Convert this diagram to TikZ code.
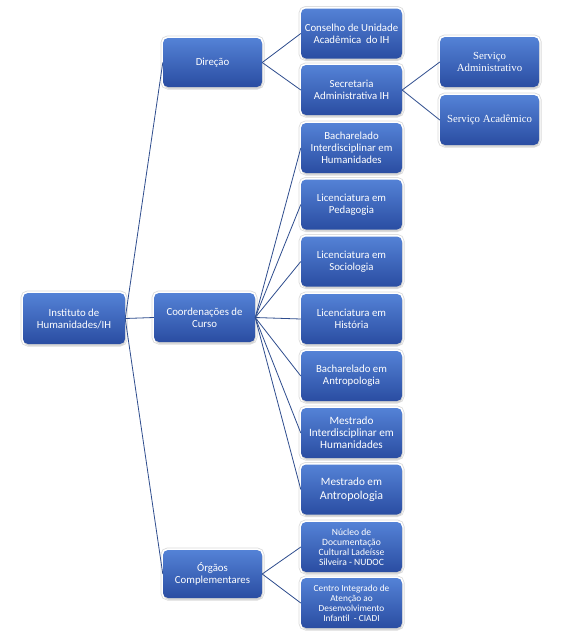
\documentclass[tikz,border=0pt]{standalone}
\usepackage{fontspec}
\setmainfont{Carlito}
\newfontfamily\servfont{Liberation Serif}
\usetikzlibrary{shadows}
\definecolor{boxtop}{HTML}{5482D6}
\definecolor{boxbot}{HTML}{2A4DA2}
\definecolor{linkc}{HTML}{2F4D8E}
\tikzset{
  orgbox/.style={rectangle, rounded corners=5pt, minimum width=101pt, minimum height=50pt,
    inner sep=2pt, align=center, text=white, font=\fontsize{10.8}{12}\selectfont,
    top color=boxtop, bottom color=boxbot, draw=none,
    preaction={draw=black!14, line width=5pt},
    preaction={draw=white, line width=3.4pt},
    drop shadow={shadow xshift=0.6pt, shadow yshift=-1.6pt, opacity=0.35}},
  link/.style={draw=linkc, line width=0.8pt}
}
\begin{document}
\begin{tikzpicture}[x=1pt,y=-1pt]
\useasboundingbox[fill=white] (0,0) rectangle (575,638);
% level 0
\node[orgbox, minimum width=102pt, minimum height=51pt] (root) at (74,318.5) {Instituto de\\Humanidades/IH};
% level 1
\node[orgbox, minimum width=99pt, minimum height=49pt] (dir) at (212.5,62.5) {Direção};
\node[orgbox, minimum width=101pt, minimum height=49pt] (coord) at (204.5,317.5) {Coordenações de\\Curso};
\node[orgbox, minimum width=99pt, minimum height=48pt] (org) at (212.5,574) {Órgãos\\Complementares};
% level 2
\node[orgbox] (cons) at (351.5,33.5) {Conselho de Unidade\\Acadêmica \ do IH};
\node[orgbox] (sec) at (351.5,90) {Secretaria\\Administrativa IH};
\node[orgbox] (bih) at (351.5,148) {Bacharelado\\Interdisciplinar em\\Humanidades};
\node[orgbox] (lped) at (351.5,204.5) {Licenciatura em\\Pedagogia};
\node[orgbox] (lsoc) at (351.5,261.5) {Licenciatura em\\Sociologia};
\node[orgbox] (lhis) at (351.5,319) {Licenciatura em\\História};
\node[orgbox] (bant) at (351.5,376) {Bacharelado em\\Antropologia};
\node[orgbox, font=\fontsize{11.2}{12}\selectfont] (mih) at (351.5,433) {Mestrado\\Interdisciplinar em\\Humanidades};
\node[orgbox, font=\fontsize{11.2}{13.3}\selectfont] (mant) at (351.5,489.5) {Mestrado em\\{\fontsize{12}{13.3}\selectfont Antropologia}};
\node[orgbox, font=\fontsize{9.6}{10}\selectfont] (nudoc) at (351.5,547) {Núcleo de\\Documentação\\Cultural Ladeísse\\Silveira - NUDOC};
\node[orgbox, font=\fontsize{9.3}{10}\selectfont] (ciadi) at (351.5,603) {Centro Integrado de\\Atenção ao\\Desenvolvimento\\Infantil \ - CIADI};
% level 3
\node[orgbox, minimum width=99pt, font=\servfont\fontsize{10.8}{11.7}\selectfont] (sadm) at (489.5,62) {Serviço\\Administrativo};
\node[orgbox, minimum width=99pt, font=\servfont\fontsize{10.8}{11.7}\selectfont] (sacad) at (489.5,120) {Serviço Acadêmico};
% connectors
\draw[link] (root.east) -- (dir.west);
\draw[link] (root.east) -- (coord.west);
\draw[link] (root.east) -- (org.west);
\draw[link] (dir.east) -- (cons.west);
\draw[link] (dir.east) -- (sec.west);
\draw[link] (sec.east) -- (sadm.west);
\draw[link] (sec.east) -- (sacad.west);
\foreach \n in {bih,lped,lsoc,lhis,bant,mih,mant}
  \draw[link] (coord.east) -- (\n.west);
\draw[link] (org.east) -- (nudoc.west);
\draw[link] (org.east) -- (ciadi.west);
\end{tikzpicture}
\end{document}
